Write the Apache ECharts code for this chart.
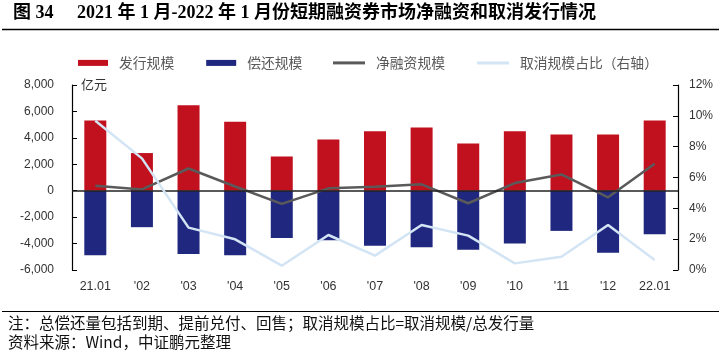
<!DOCTYPE html>
<html>
<head>
<meta charset="utf-8">
<script src="https://cdn.jsdelivr.net/npm/echarts@6/dist/echarts.min.js"></script>
<style>
html,body{margin:0;padding:0;background:#fff;}
#chart{width:721px;height:355px;}
</style>
</head>
<body>
<div id="chart"></div>
<script>
var categories = ['21.01', "'02", "'03", "'04", "'05", "'06", "'07", "'08", "'09", "'10", "'11", "'12", '22.01'];
var issueValues = [5310, 2850, 6470, 5210, 2590, 3880, 4500, 4780, 3570, 4500, 4250, 4250, 5310];
var repayValues = [-4880, -2760, -4780, -4880, -3570, -3750, -4170, -4280, -4460, -4000, -3040, -4700, -3290];
var netValues = [380, 100, 1680, 320, -1000, 180, 300, 480, -950, 580, 1230, -500, 2040];
var cancelRatio = [9.68, 7.24, 2.75, 1.99, 0.28, 2.27, 0.93, 2.92, 2.23, 0.43, 0.86, 2.92, 0.65];
var leftTicks = {min: -6000, max: 8000, interval: 2000};
var rightTicks = {min: 0, max: 12, interval: 2};

var chart = echarts.init(document.getElementById('chart'), null, {renderer: 'canvas'});
var cjk = "'Noto Sans CJK SC', sans-serif";
var latin = "'Liberation Sans', 'Noto Sans CJK SC', sans-serif";
var serif = "'Liberation Serif', 'Noto Sans CJK SC', serif";
var legendText = {fontSize: 13.8, color: '#595959', fontFamily: cjk, padding: [0, 0, 0, 6]};

var option = {
  animation: false,
  backgroundColor: '#ffffff',
  graphic: [
    {type: 'text', left: 13, top: 4, style: {text: '图 34', font: 'bold 18px ' + serif, fill: '#000'}},
    {type: 'text', left: 77, top: 4, style: {text: '2021 年 1 月-2022 年 1 月份短期融资券市场净融资和取消发行情况', font: 'bold 18px ' + serif, fill: '#000'}},
    {type: 'line', shape: {x1: 2, y1: 29.5, x2: 719, y2: 29.5}, style: {stroke: '#000', lineWidth: 1.5}},
    {type: 'line', shape: {x1: 2, y1: 311.5, x2: 719, y2: 311.5}, style: {stroke: '#000', lineWidth: 1}},
    {type: 'text', left: 8, top: 315, style: {text: '注：总偿还量包括到期、提前兑付、回售；取消规模占比=取消规模/总发行量', font: '15.5px ' + cjk, fill: '#111'}},
    {type: 'text', left: 8, top: 334, style: {text: '资料来源：Wind，中证鹏元整理', font: '15.5px ' + cjk, fill: '#111'}},
    {type: 'text', left: 81, top: 78, style: {text: '亿元', font: '13px ' + cjk, fill: '#333'}}
  ],
  legend: [
    {
      left: 73, top: 51, itemWidth: 30, itemHeight: 6, itemGap: 32,
      textStyle: legendText,
      data: [{name: '发行规模', icon: 'rect'}, {name: '偿还规模', icon: 'rect'}]
    },
    {
      left: 328, top: 51, itemWidth: 32, itemHeight: 3, itemGap: 32,
      textStyle: legendText,
      data: [{name: '净融资规模', icon: 'rect'}, {name: '取消规模占比（右轴）', icon: 'rect'}]
    }
  ],
  grid: {left: 72, right: 43, top: 85, bottom: 85},
  xAxis: {
    type: 'category',
    data: categories,
    boundaryGap: true,
    axisLine: {show: false, onZero: false},
    axisTick: {show: false},
    axisLabel: {color: '#333', fontSize: 12.5, fontFamily: latin, margin: 10, interval: 0}
  },
  yAxis: [
    {
      type: 'value',
      min: leftTicks.min, max: leftTicks.max, interval: leftTicks.interval,
      axisLine: {show: true, lineStyle: {color: '#000', width: 1.2}},
      axisTick: {show: true, inside: true, length: 5, lineStyle: {color: '#000'}},
      splitLine: {show: false},
      axisLabel: {color: '#333', fontSize: 12, fontFamily: latin, margin: 18}
    },
    {
      type: 'value',
      min: rightTicks.min, max: rightTicks.max, interval: rightTicks.interval,
      position: 'right',
      axisLine: {show: true, lineStyle: {color: '#000', width: 1.2}},
      axisTick: {show: true, inside: true, length: 5, lineStyle: {color: '#000'}},
      splitLine: {show: false},
      axisLabel: {color: '#333', fontSize: 12, fontFamily: latin, margin: 11, formatter: '{value}%'}
    }
  ],
  series: [
    {
      name: '发行规模', type: 'bar', data: issueValues, barWidth: 22, barGap: '-100%',
      itemStyle: {color: '#C1111F'},
      markLine: {
        silent: true, symbol: 'none', label: {show: false},
        lineStyle: {color: '#222', width: 1.5, type: 'solid'},
        data: [{yAxis: 0}]
      },
      z: 2
    },
    {
      name: '偿还规模', type: 'bar', data: repayValues, barWidth: 22, barGap: '-100%',
      itemStyle: {color: '#1F287E'},
      z: 2
    },
    {
      name: '净融资规模', type: 'line', data: netValues, symbol: 'none',
      lineStyle: {color: '#5A5A5A', width: 2.5}, itemStyle: {color: '#5A5A5A'},
      z: 4
    },
    {
      name: '取消规模占比（右轴）', type: 'line', yAxisIndex: 1, data: cancelRatio, symbol: 'none',
      lineStyle: {color: '#D3E4F4', width: 2.5}, itemStyle: {color: '#D3E4F4'},
      z: 5
    }
  ]
};
chart.setOption(option);
</script>
</body>
</html>
